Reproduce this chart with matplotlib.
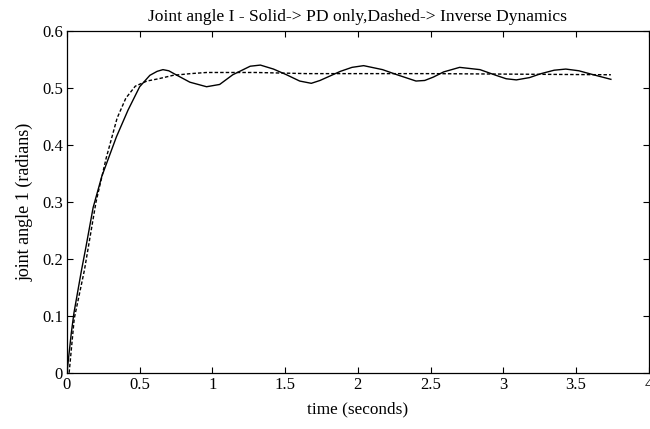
import numpy as np
import matplotlib
matplotlib.use("Agg")
import matplotlib.pyplot as plt

# PD only (solid)
t_pd = [0.0, 0.03, 0.048, 0.10, 0.13, 0.18, 0.24, 0.34, 0.42, 0.50, 0.57, 0.62,
        0.66, 0.70, 0.75, 0.845, 0.96, 1.05, 1.14, 1.26, 1.33, 1.42, 1.51, 1.60,
        1.68, 1.74, 1.88, 1.96, 2.04, 2.17, 2.27, 2.40, 2.46, 2.52, 2.59, 2.70,
        2.84, 2.95, 3.02, 3.09, 3.18, 3.26, 3.35, 3.43, 3.52, 3.62, 3.74]
y_pd = [0.0, 0.07, 0.105, 0.18, 0.22, 0.29, 0.345, 0.414, 0.461, 0.502, 0.522, 0.529,
        0.532, 0.530, 0.523, 0.510, 0.502, 0.506, 0.523, 0.538, 0.540, 0.533, 0.523, 0.512,
        0.508, 0.513, 0.529, 0.536, 0.539, 0.532, 0.523, 0.512, 0.513, 0.519, 0.528, 0.536,
        0.532, 0.522, 0.516, 0.514, 0.518, 0.525, 0.531, 0.533, 0.530, 0.523, 0.515]

# inverse dynamics (dashed)
t_id = [0.015, 0.05, 0.12, 0.20, 0.27, 0.345, 0.405, 0.47, 0.55, 0.63, 0.73,
        0.85, 0.96, 1.3, 1.65, 2.5, 3.74]
y_id = [0.0, 0.095, 0.18, 0.30, 0.377, 0.447, 0.482, 0.503, 0.512, 0.516, 0.522,
        0.525, 0.527, 0.527, 0.525, 0.525, 0.523]

xticks = [0, 0.5, 1, 1.5, 2, 2.5, 3, 3.5, 4]
xlabels = ["0", "0.5", "1", "1.5", "2", "2.5", "3", "3.5", "4"]
yticks = [0, 0.1, 0.2, 0.3, 0.4, 0.5, 0.6]
ylabels = ["0", "0.1", "0.2", "0.3", "0.4", "0.5", "0.6"]

plt.rcParams['font.family'] = ['Liberation Serif', 'DejaVu Serif']

fig = plt.figure(figsize=(6.5, 4.29), dpi=100)
ax = fig.add_axes([0.103, 0.131, 0.895, 0.797])

ax.plot(t_pd, y_pd, color="black", lw=1.0)
ax.plot(t_id, y_id, color="black", lw=1.0, linestyle=(0, (2.5, 1.5)))

ax.set_xlim(0, 4)
ax.set_ylim(0, 0.6)
ax.set_xticks(xticks)
ax.set_xticklabels(xlabels)
ax.set_yticks(yticks)
ax.set_yticklabels(ylabels)
ax.tick_params(direction="in", top=True, right=True, length=4, width=0.8,
               labelsize=12, pad=3)
for s in ax.spines.values():
    s.set_linewidth(0.9)

ax.set_title("Joint angle I - Solid-> PD only,Dashed-> Inverse Dynamics",
             fontsize=12.6, pad=7)
ax.set_xlabel("time (seconds)", fontsize=12.4, labelpad=6)
ax.set_ylabel("joint angle 1 (radians)", fontsize=13, labelpad=6)

fig.savefig("out.png", dpi=100)
